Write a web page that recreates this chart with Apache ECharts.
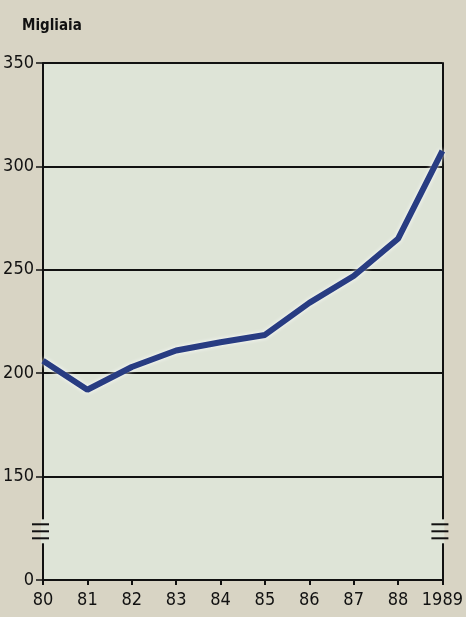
<!DOCTYPE html>
<html><head><meta charset="utf-8">
<script src="https://cdn.jsdelivr.net/npm/echarts@6/dist/echarts.min.js"></script>
<style>html,body{margin:0;padding:0;background:#d8d4c4;}#c{width:466px;height:617px;}</style>
</head><body><div id="c"></div>
<script>
const categories = ['80','81','82','83','84','85','86','87','88','1989'];
const values = [206, 192, 203, 211, 215, 218.5, 234, 247, 265, 307.5];
const yTicks = [100, 150, 200, 250, 300, 350];
const yTickLabels = ['0', '150', '200', '250', '300', '350'];
const unitLabel = 'Migliaia';

const FONT = '"DejaVu Sans Condensed", "Liberation Sans Narrow", sans-serif';
const chart = echarts.init(document.getElementById('c'), null, {renderer: 'canvas'});
const option = {
  backgroundColor: '#d8d4c4',
  animation: false,
  title: {text: unitLabel, left: 17, top: 14, textStyle: {fontFamily: FONT, fontSize: 15, fontWeight: 'bold', color: '#111'}},
  grid: {left: 43, right: 20, top: 63, bottom: 37, show: true, backgroundColor: '#dee4d7', borderWidth: 0},
  xAxis: {
    type: 'category', data: categories, boundaryGap: false,
    axisLine: {lineStyle: {color: '#111', width: 2}},
    axisTick: {show: true, length: 5, lineStyle: {color: '#111', width: 2}},
    axisLabel: {fontFamily: FONT, fontSize: 18, color: '#111', margin: 11, interval: 0}
  },
  yAxis: [{
    type: 'value', min: 100, max: 350, interval: 50,
    axisLine: {show: true, lineStyle: {color: '#111', width: 2}},
    axisTick: {show: true, length: 7, lineStyle: {color: '#111', width: 1.5}},
    axisLabel: {fontFamily: FONT, fontSize: 18, color: '#111', margin: 9,
      formatter: v => { const i = yTicks.indexOf(v); return i >= 0 ? yTickLabels[i] : ''; }},
    splitLine: {show: true, lineStyle: {color: '#111', width: 2}}
  }, {
    type: 'value', min: 100, max: 350, interval: 50, position: 'right',
    axisLine: {show: true, lineStyle: {color: '#111', width: 2}},
    axisTick: {show: false}, axisLabel: {show: false}, splitLine: {show: false}
  }],
  series: [{
    type: 'line', data: values, symbol: 'none',
    lineStyle: {color: '#283c82', width: 6, shadowColor: 'rgba(255,255,255,0.95)', shadowBlur: 4},
    z: 5
  }]
};
chart.setOption(option);

// axis break marks at value 125 on both vertical axes
const yB = chart.convertToPixel({yAxisIndex: 0}, 125);
const xL = chart.convertToPixel({xAxisIndex: 0}, 0);
const xR = chart.convertToPixel({xAxisIndex: 0}, categories.length - 1);
const els = [];
[xL, xR].forEach(x => {
  els.push({type: 'rect', shape: {x: x - 2, y: yB - 9, width: 4, height: 24}, style: {fill: '#dee4d7'}, z: 100});
  [-4, 3, 10].forEach(d => {
    els.push({type: 'line', shape: {x1: x - 11, y1: yB + d, x2: x + 6, y2: yB + d}, style: {stroke: '#111', lineWidth: 2}, z: 101});
  });
});
chart.setOption({graphic: {elements: els}});
</script></body></html>
